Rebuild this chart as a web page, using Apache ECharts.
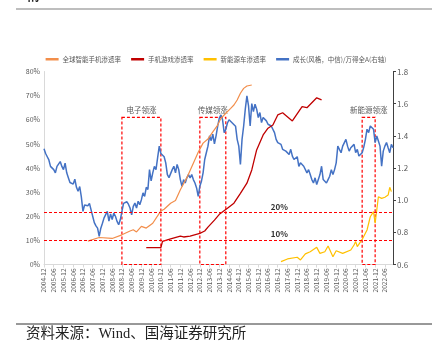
<!DOCTYPE html>
<html><head><meta charset="utf-8">
<script src="https://cdn.jsdelivr.net/npm/echarts/dist/echarts.min.js"></script>
<style>html,body{margin:0;padding:0;background:#fff;}#c{width:432px;height:357px;}</style>
</head><body><div id="c"></div>
<script>
// ---- categories (monthly, 2004-12 .. 2022-11) ----
const firstYear = 2004, firstMonth = 12, monthCount = 216;
const months = [];
for (let i = 0; i < monthCount; i++) {
  const t = firstMonth - 1 + i;
  const y = firstYear + Math.floor(t / 12), mo = t % 12 + 1;
  months.push(y + '-' + (mo < 10 ? '0' : '') + mo);
}

// ---- series names ----
const nameSmartphone = '全球智能手机渗透率';
const nameMobileGame = '手机游戏渗透率';
const nameNEV = '新能源车渗透率';
const nameGrowth = '成长(风格，中信)/万得全A(右轴)';

// ---- growth style / Wind All A (right axis), monthly from 2004-12 ----
const growthVals = [
  1.32,1.29,1.27,1.25,1.21,1.22,1.19,1.17,1.21,1.22,1.24,1.21,
  1.19,1.23,1.17,1.14,1.11,1.12,1.10,1.13,1.08,1.055,1.085,1.02,
  0.93,0.97,0.97,0.965,0.98,0.94,0.90,0.86,0.84,0.826,0.775,0.826,
  0.857,0.89,0.91,0.93,0.87,0.915,0.88,0.92,0.90,0.868,0.847,0.878,
  0.93,0.98,0.97,0.99,0.975,0.951,0.909,0.961,0.982,0.951,0.993,0.972,
  1.003,1.045,1.024,1.08,1.066,1.19,1.12,1.17,1.21,1.19,1.264,1.336,
  1.29,1.28,1.27,1.232,1.159,1.14,1.139,1.19,1.211,1.17,1.222,1.19,
  1.128,1.086,1.128,1.107,1.139,1.159,1.139,1.159,1.128,1.107,1.076,1.024,
  1.086,1.118,1.17,1.253,1.295,1.336,1.40,1.37,1.41,1.35,1.40,1.46,
  1.51,1.53,1.50,1.42,1.44,1.48,1.50,1.51,1.48,1.47,1.46,1.378,
  1.336,1.222,1.378,1.461,1.566,1.649,1.586,1.461,1.60,1.55,1.597,1.566,
  1.514,1.545,1.482,1.514,1.503,1.493,1.472,1.482,1.461,1.451,1.42,1.378,
  1.358,1.368,1.347,1.316,1.326,1.305,1.295,1.284,1.316,1.274,1.253,1.26,
  1.27,1.21,1.232,1.243,1.211,1.201,1.17,1.19,1.159,1.128,1.107,1.139,
  1.097,1.128,1.159,1.211,1.128,1.139,1.107,1.128,1.149,1.19,1.159,1.19,
  1.232,1.336,1.347,1.295,1.336,1.326,1.378,1.336,1.305,1.326,1.316,1.347,
  1.295,1.316,1.274,1.264,1.295,1.33,1.378,1.441,1.42,1.461,1.472,1.441,
  1.358,1.399,1.368,1.336,1.211,1.305,1.336,1.358,1.326,1.295,1.347,1.326
];

// ---- global smartphone penetration (%) ----
const phoneDates = ['2007-03','2007-10','2008-06','2008-12','2009-05','2009-07','2009-09','2009-12','2010-03','2010-07','2010-12','2011-02','2011-06','2011-09','2011-12','2012-04','2012-08','2012-11','2013-02','2013-05','2013-08','2013-11','2014-01','2014-04','2014-07','2014-09','2014-11','2015-01','2015-03','2015-05','2015-08'];
const phoneVals  = [9.7,11.2,10.8,12.3,13.9,14.4,13.5,15.8,15.1,17.1,22.2,22.9,25.4,26.5,31,36,42,46.5,50.3,52,55,57.8,60.6,62.7,64.7,66.1,68.2,71,73,74,74.4];

// ---- mobile game penetration (%) ----
const gameDates = ['2010-03','2010-12','2011-01','2011-06','2011-12','2012-02','2012-06','2012-12','2013-03','2013-05','2013-09','2013-12','2014-05','2014-09','2015-01','2015-05','2015-08','2015-11','2016-03','2016-06','2016-09','2016-12','2017-03','2017-09','2018-03','2018-06','2018-12','2019-03'];
const gameVals  = [7.0,7.0,9.6,10.6,11.8,11.4,11.8,12.9,13.9,15.5,18.4,20.8,23.3,25.4,29.5,33.7,39.2,47.5,53.7,56.5,57.8,62,62.9,59.5,65.4,65,69.1,68.2];

// ---- NEV penetration (%) ----
const nevDates = ['2017-02','2017-06','2017-12','2018-02','2018-05','2018-08','2018-12','2019-02','2019-05','2019-07','2019-10','2019-12','2020-04','2020-09','2020-11','2020-12','2021-01','2021-04','2021-07','2021-09','2021-11','2021-12','2022-01','2022-02','2022-04','2022-06','2022-08','2022-09','2022-10'];
const nevVals  = [1.2,2.3,3.0,1.9,4.4,5.3,7.1,4.6,5.3,7.7,3.2,5.7,4.6,6.0,8.1,9.5,7.4,10.4,14.3,19.8,21.9,17.1,22.6,28.1,27.4,27.9,28.8,32,30.2];

// ---- annotations ----
const boxNames = ['电子领涨','传媒领涨','新能源领涨'];
const boxStart = ['2008-12','2012-12','2021-04'];
const boxEnd   = ['2010-12','2014-04','2021-12'];
const boxTop = 61;
const refLevels = [21.5, 10.2];
const refLabels = ['20%', '10%'];
const refLabelAt = '2017-01';

// ---- axis ticks ----
const leftMin = 0, leftMax = 80, leftStep = 10;
const rightMin = 0.6, rightMax = 1.8, rightStep = 0.2;

const pair = (ds, vs) => ds.map((d, i) => [d, vs[i]]);
const gray = '#595959';

const chart = echarts.init(document.getElementById('c'), null, {renderer: 'canvas'});
chart.setOption({
  animation: false,
  backgroundColor: '#fff',
  textStyle: {fontFamily: "'Noto Sans CJK SC', 'Liberation Sans', sans-serif"},
  grid: {left: 44, right: 39, top: 71.5, bottom: 92.5, containLabel: false},
  legend: {
    top: 51, left: 'center', itemWidth: 13, itemHeight: 2.5, itemGap: 10,
    icon: 'rect',
    textStyle: {fontSize: 6.5, color: gray, padding: [0, 0, 0, -1]},
    data: [nameSmartphone, nameMobileGame, nameNEV, nameGrowth]
  },
  xAxis: {
    type: 'category', data: months, boundaryGap: false,
    axisLine: {lineStyle: {color: '#D9D9D9', width: 1}},
    axisTick: {show: true, interval: 5, length: 3, lineStyle: {color: '#D9D9D9'}},
    axisLabel: {interval: 5, rotate: 90, fontSize: 6.5, color: gray, margin: 4},
    splitLine: {show: false}
  },
  yAxis: [
    {type: 'value', min: leftMin, max: leftMax, interval: leftStep,
     axisLine: {show: true, lineStyle: {color: '#D9D9D9'}},
     axisTick: {show: false}, splitLine: {show: false},
     axisLabel: {formatter: '{value}%', fontSize: 7, color: gray, margin: 4}},
    {type: 'value', min: rightMin, max: rightMax, interval: rightStep, position: 'right',
     axisLine: {show: true, lineStyle: {color: '#404040', width: 1}},
     axisTick: {show: true, length: 3, lineStyle: {color: '#404040'}}, splitLine: {show: false},
     axisLabel: {formatter: v => v.toFixed(1), fontSize: 8, color: gray, margin: 4}}
  ],
  series: [
    {name: nameGrowth, type: 'line', yAxisIndex: 1, data: growthVals, symbol: 'none',
     lineStyle: {color: '#4472C4', width: 1.5}, itemStyle: {color: '#4472C4'}, z: 2},
    {name: nameSmartphone, type: 'line', data: pair(phoneDates, phoneVals), symbol: 'none',
     lineStyle: {color: '#F28E4B', width: 1.2}, itemStyle: {color: '#F28E4B'}, z: 3,
     markArea: {
       silent: true,
       itemStyle: {color: 'rgba(0,0,0,0)', borderColor: '#FF0000', borderWidth: 1.2, borderType: [3, 2]},
       label: {show: true, position: 'top', distance: 3, fontSize: 7.5, color: gray},
       emphasis: {disabled: true},
       data: boxNames.map((n, i) => [{name: n, xAxis: boxStart[i], yAxis: boxTop}, {xAxis: boxEnd[i], yAxis: 0}])
     }},
    {name: nameMobileGame, type: 'line', data: pair(gameDates, gameVals), symbol: 'none',
     lineStyle: {color: '#C00000', width: 1.3}, itemStyle: {color: '#C00000'}, z: 3},
    {name: nameNEV, type: 'line', data: pair(nevDates, nevVals), symbol: 'none',
     lineStyle: {color: '#FFC000', width: 1.2}, itemStyle: {color: '#FFC000'}, z: 3,
     markLine: {
       silent: true, symbol: ['none', 'none'],
       lineStyle: {color: '#FF0000', type: [3, 2], width: 1.2},
       label: {show: false},
       data: refLevels.map(v => ({yAxis: v}))
     },
     markPoint: {
       silent: true, symbol: 'circle', symbolSize: 0,
       itemStyle: {color: 'rgba(0,0,0,0)'},
       label: {show: true, position: 'top', distance: 2, formatter: '{b}', fontSize: 8, fontWeight: 'bold', color: '#333'},
       data: refLevels.map((v, i) => ({name: refLabels[i], coord: [refLabelAt, v]}))
     }}
  ],
  graphic: [
    {type: 'text', left: 27, top: -10, style: {text: '情', fontSize: 13, fontWeight: 'bold', fill: '#222'}},
    {type: 'line', shape: {x1: 16, y1: 9, x2: 432, y2: 9}, style: {stroke: '#7F7F7F', lineWidth: 1.2}},
    {type: 'line', shape: {x1: 16, y1: 324, x2: 432, y2: 324}, style: {stroke: '#333', lineWidth: 1}},
    {type: 'text', left: 26, top: 327, style: {text: '资料来源：Wind、国海证券研究所', fontSize: 14.5, fill: '#222', fontFamily: "'Liberation Serif', 'Noto Sans CJK SC', serif"}}
  ]
});
</script></body></html>
